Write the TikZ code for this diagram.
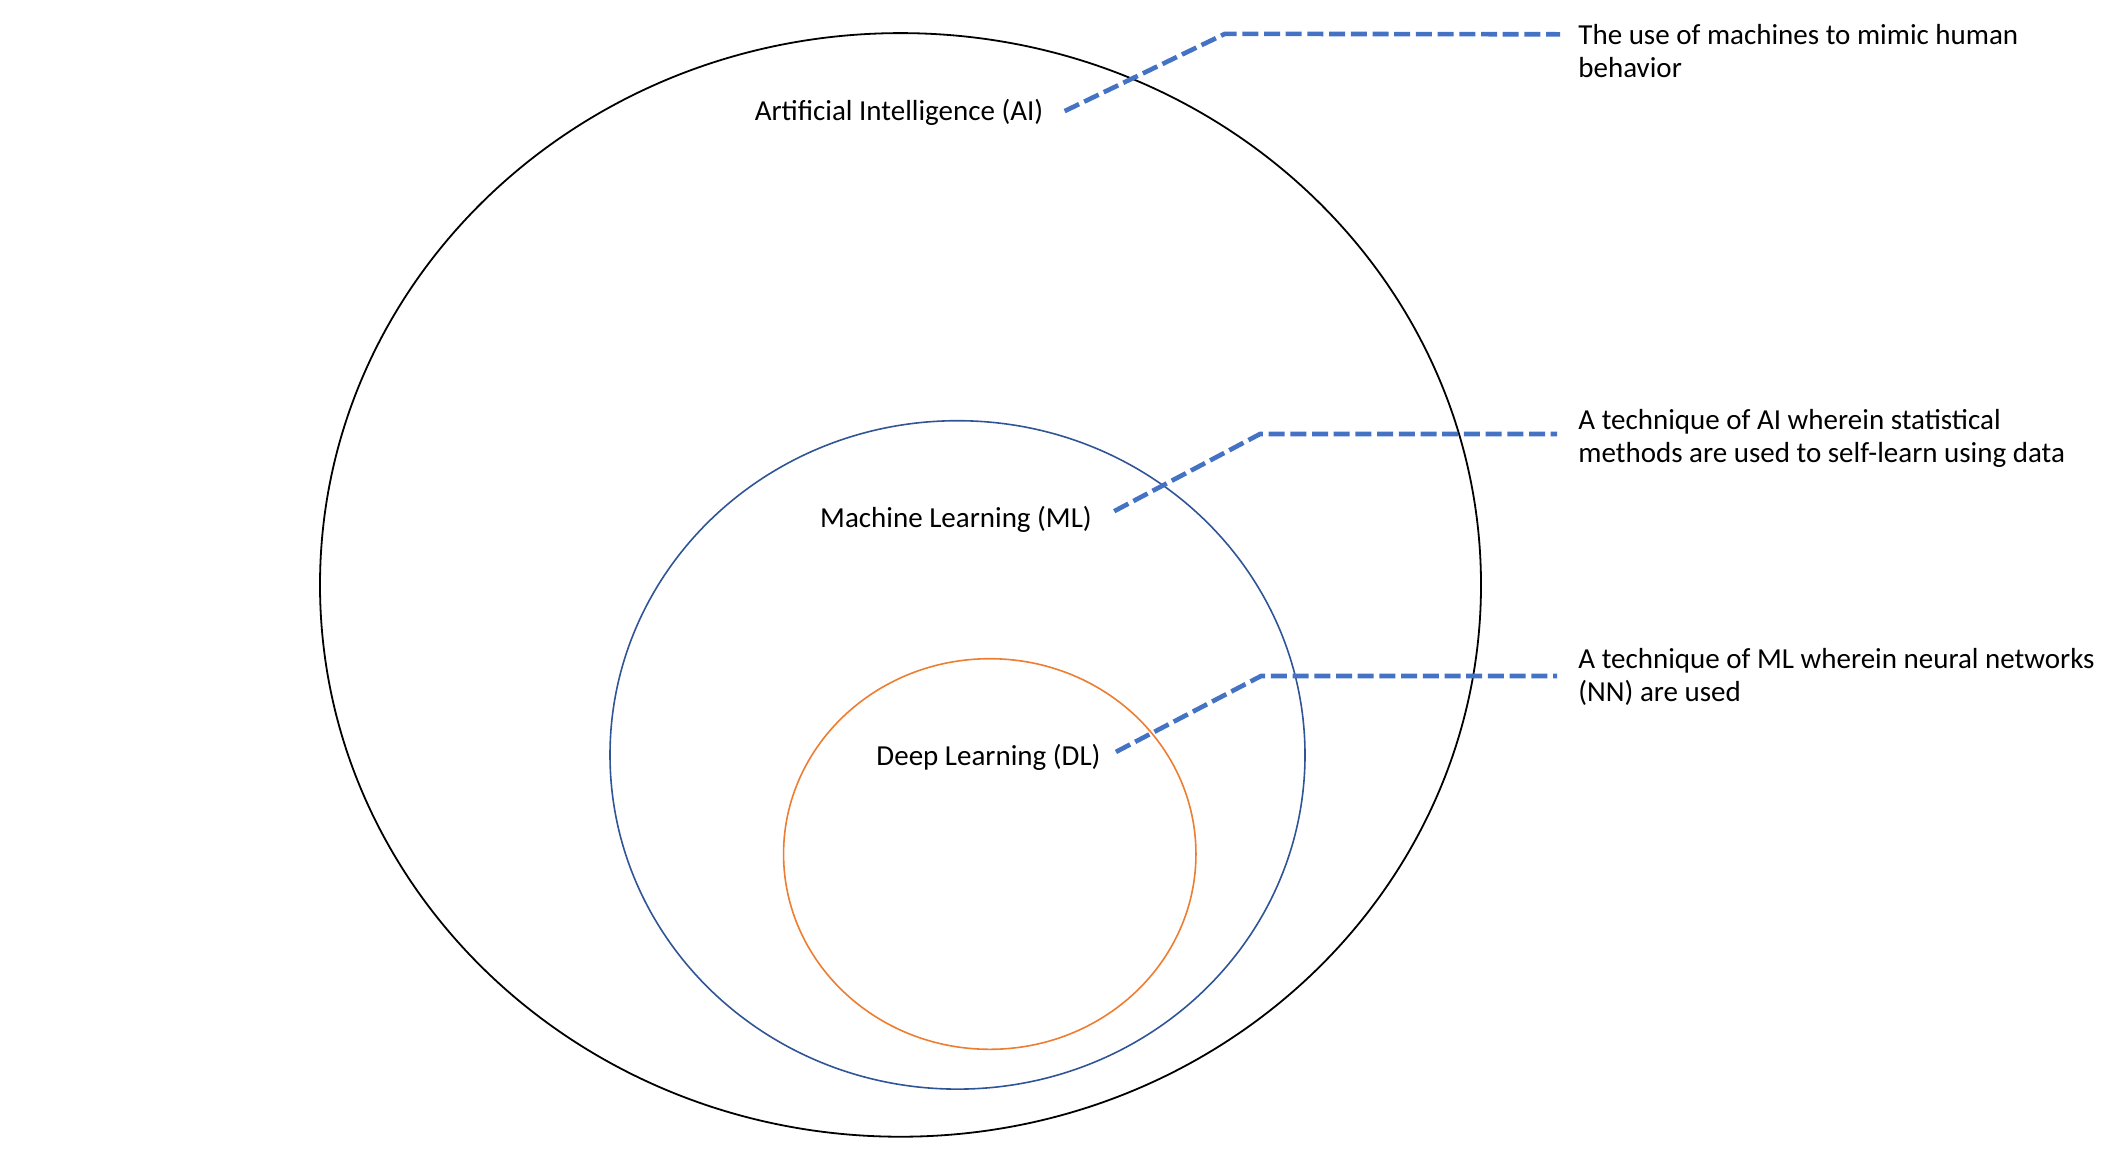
\documentclass[tikz,border=0pt]{standalone}
\usepackage{fontspec}
\setmainfont{Carlito}
\usepackage{tikz}
\usetikzlibrary{positioning,calc}
\definecolor{leaderblue}{HTML}{4472C4}
\definecolor{mlblue}{HTML}{2F5597}
\definecolor{dlorange}{HTML}{ED7D31}
\tikzset{
    setlabel/.style={inner sep=0pt, anchor=base, font=\fontsize{14.5}{16.5}\selectfont},
    setnote/.style={inner sep=0pt, anchor=base west, align=left, font=\fontsize{14.5}{16.5}\selectfont},
    leader/.style={draw=leaderblue, line width=2.3pt, dash pattern=on 8pt off 2.85pt}
}

\begin{document}
\begin{tikzpicture}[x=0.5pt, y=-0.5pt]
    \useasboundingbox (0,0) rectangle (2108,1158);

    % Nested sets
    \draw [black, line width=0.9pt] (900.5,584.9) ellipse [x radius=290.25pt, y radius=275.9pt];
    \draw [mlblue, line width=0.8pt] (957.5,754.9) ellipse [x radius=173.75pt, y radius=167.1pt];
    \draw [dlorange, line width=0.8pt] (989.75,854) ellipse [x radius=103.1pt, y radius=97.65pt];

    % Set labels
    \node [setlabel] (ai) at (899,120.7) {Artificial Intelligence (AI)};
    \node [setlabel] (ml) at (956,527.3) {Machine Learning (ML)};
    \node [setlabel] (dl) at (988.5,765) {Deep Learning (DL)};

    % Descriptions (anchored at the last line's baseline)
    \node [setnote] (ai-note) at (1578,77.5) {The use of machines to mimic human\\behavior};
    \node [setnote] (ml-note) at (1578,462) {A technique of AI wherein statistical\\methods are used to self-learn using data};
    \node [setnote] (dl-note) at (1578,701.3) {A technique of ML wherein neural networks\\(NN) are used};

    % Leader lines
    \coordinate (ai-bend) at (1225,33.8);
    \coordinate (ai-end) at (1560,34.3);
    \coordinate (ml-bend) at (1260,434);
    \coordinate (ml-end) at (1557,434);
    \coordinate (dl-bend) at (1261,676);
    \coordinate (dl-end) at (1557,676);

    \draw [leader] ([xshift=10.5pt,yshift=0.75pt]ai.east) -- (ai-bend) -- (ai-end);
    \draw [leader] ([xshift=11pt,yshift=4pt]ml.east) -- (ml-bend) -- (ml-end);
    \draw [leader] ([xshift=7.5pt,yshift=2.5pt]dl.east) -- (dl-bend) -- (dl-end);
\end{tikzpicture}
\end{document}
